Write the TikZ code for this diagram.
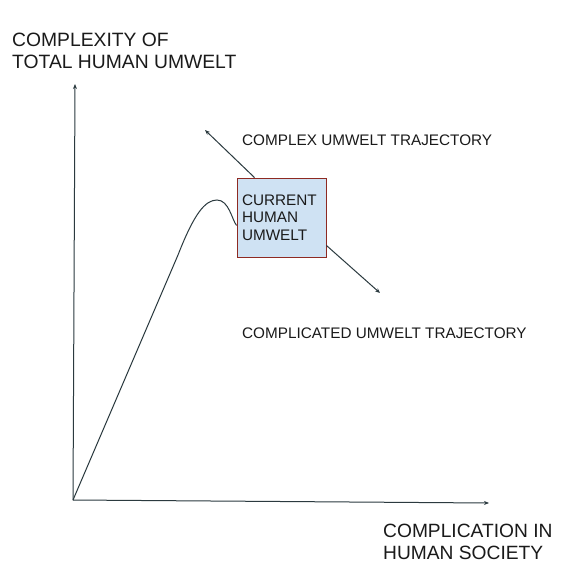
\documentclass[tikz,border=0pt]{standalone}
\usepackage{fontspec}
\setmainfont{Liberation Sans}
\usetikzlibrary{arrows.meta, positioning, calc}
\definecolor{inkline}{HTML}{2B3A3F}
\definecolor{boxfill}{HTML}{CFE2F3}
\definecolor{boxedge}{HTML}{8E2A22}
\definecolor{inktext}{HTML}{1A1A1A}

\begin{document}
\begin{tikzpicture}[x=1pt, y=-1pt,
    axis/.style={inkline, line width=1pt, -{Stealth[length=5pt, width=4pt]}},
    trend/.style={inkline, line width=1pt, -{Stealth[length=5pt, width=4pt]}},
    label/.style={text=inktext, inner sep=0pt, align=left},
    nowbox/.style={draw=boxedge, fill=boxfill, line width=0.8pt,
                   minimum width=89pt, minimum height=79pt, inner sep=5pt,
                   text width=79pt, align=left, text=inktext,
                   font=\fontsize{15.3}{17.6}\selectfont}]
  \useasboundingbox[fill=white] (0,0) rectangle (573,565);

  % axes
  \coordinate (o) at (73,500);
  \coordinate (ytop) at (75,84);
  \coordinate (xend) at (489,503);
  \draw[axis] (o) -- (ytop);
  \draw[axis] (o) -- (xend);

  % axis titles
  \node[label, anchor=north west, font=\fontsize{19.3}{21.6}\selectfont]
    (ytitle) at (12,33) {COMPLEXITY OF\\TOTAL HUMAN UMWELT};
  \node[label, anchor=north west, font=\fontsize{19.2}{22}\selectfont]
    (xtitle) at (383,524) {COMPLICATION IN\\HUMAN SOCIETY};

  % where we are now
  \node[nowbox] (now) at (281.5,217.5) {CURRENT\\HUMAN\\UMWELT};

  % growth curve up to the box
  \draw[inkline, line width=1pt] (o) -- (178,255)
    .. controls (194,214) and (205,200) .. (217,200)
    .. controls (229,200) and (232,220) .. ($(now.north west)!0.6!(now.south west)$);

  % the two ways out
  \coordinate (upleft) at (205,130);
  \coordinate (downright) at (380,293);
  \draw[trend] ($(now.north west)!0.2!(now.north east)$) -- (upleft);
  \draw[trend] ($(now.north east)!0.85!(now.south east)$) -- (downright);

  \node[label, anchor=base west, font=\fontsize{15.3}{17}\selectfont]
    (complex) at (242,145) {COMPLEX UMWELT TRAJECTORY};
  \node[label, anchor=base west, font=\fontsize{15.3}{17}\selectfont]
    (complicated) at (242,338) {COMPLICATED UMWELT TRAJECTORY};
\end{tikzpicture}
\end{document}
